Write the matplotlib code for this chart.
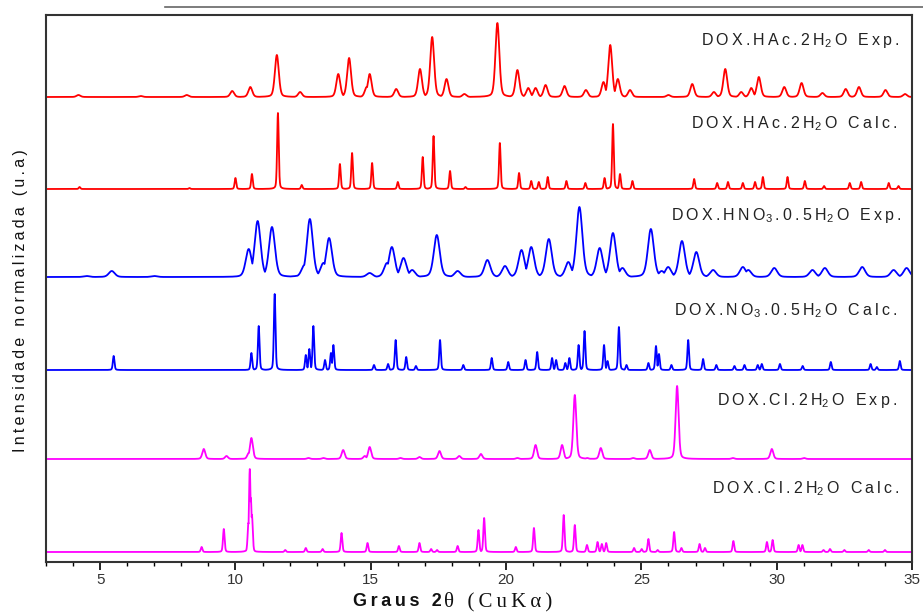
import numpy as np
import matplotlib
matplotlib.use("Agg")
import matplotlib.pyplot as plt
from matplotlib.lines import Line2D
from matplotlib.ticker import MultipleLocator

plt.rcParams["font.family"] = ["Liberation Sans", "DejaVu Sans"]

# ---------------------------------------------------------------------------
# Peak lists: 2theta (deg) and height (arb. units)
# ---------------------------------------------------------------------------
hac_exp_pos = [4.2, 6.5, 8.2, 9.88, 10.55, 11.53, 12.39, 13.8, 14.2, 14.85, 14.96,
               15.94, 16.82, 17.27, 17.8, 18.46, 19.68, 20.42, 20.82, 21.09, 21.46,
               22.16, 22.95, 23.6, 23.85, 24.13, 24.58, 26.0, 26.88, 27.68, 28.1,
               28.69, 29.06, 29.34, 30.28, 30.92, 31.69, 32.55, 33.04, 34.02, 34.74]
hac_exp_int = [2, 1, 2, 6, 10, 42, 5, 23, 39, 10, 23,
               8, 28, 60, 18, 3, 74, 27, 9, 9, 12,
               11, 7, 15, 52, 18, 7, 2, 13, 5, 28,
               5, 9, 20, 10, 14, 4, 8, 10, 7, 3]

hac_calc_pos = [4.24, 8.3, 10.0, 10.61, 11.57, 12.45, 13.86, 14.31, 15.05, 16.0,
                16.92, 17.32, 17.93, 18.5, 19.77, 20.48, 20.93, 21.21, 21.54, 22.23,
                22.93, 23.64, 23.95, 24.21, 24.67, 26.95, 27.8, 28.2, 28.75, 29.2,
                29.49, 30.4, 31.04, 31.75, 32.7, 33.12, 34.14, 34.5]
hac_calc_int = [2, 1, 11, 15, 76, 4, 25, 36, 26, 7,
                32, 53, 18, 2, 46, 16, 8, 7, 12, 8,
                6, 11, 65, 15, 8, 10, 6, 7, 6, 7,
                12, 12, 8, 3, 6, 7, 6, 3]

hno3_exp_pos = [4.5, 5.43, 7.0, 10.49, 10.82, 11.35, 12.55, 12.75, 13.25, 13.46, 14.96,
                15.6, 15.78, 16.21, 16.53, 17.44, 18.21, 19.31, 19.96, 20.57, 20.93,
                21.58, 22.3, 22.71, 23.46, 23.95, 24.3, 25.35, 25.75, 25.99, 26.5,
                27.03, 27.65, 28.75, 28.95, 29.91, 31.32, 31.78, 33.16, 34.32, 34.8]
hno3_exp_int = [1, 6, 1, 28, 56, 50, 12, 58, 14, 39, 4,
                14, 30, 19, 7, 42, 6, 17, 11, 27, 30,
                38, 15, 70, 29, 44, 9, 48, 6, 10, 36,
                25, 7, 10, 7, 9, 7, 9, 10, 7, 9]

no3_calc_pos = [5.5, 10.59, 10.86, 11.45, 12.6, 12.73, 12.88, 13.31, 13.53, 13.62,
                15.12, 15.64, 15.92, 16.31, 16.67, 17.56, 18.42, 19.47, 20.08, 20.72,
                21.15, 21.7, 21.85, 22.19, 22.34, 22.68, 22.9, 23.62, 23.75, 24.17,
                24.45, 25.26, 25.54, 25.65, 26.11, 26.73, 27.28, 27.77, 28.44, 28.81,
                29.3, 29.45, 30.12, 30.96, 32.0, 33.47, 33.7, 34.55]
no3_calc_int = [14, 17, 44, 76, 15, 21, 44, 10, 17, 25,
                5, 6, 30, 13, 4, 30, 5, 12, 8, 10,
                18, 12, 10, 7, 12, 25, 39, 25, 9, 43,
                5, 7, 24, 16, 5, 30, 11, 5, 4, 5,
                5, 6, 6, 4, 8, 6, 3, 9]

cl_exp_pos = [8.83, 9.67, 10.49, 10.59, 12.7, 13.25, 13.98, 14.78, 14.96, 16.1,
              16.8, 17.54, 18.27, 19.07, 20.42, 21.09, 22.07, 22.54, 23.0, 23.5,
              24.7, 25.31, 26.32, 28.38, 29.82, 31.01]
cl_exp_int = [10, 3, 6, 21, 1, 1, 9, 3, 12, 1,
              2, 8, 3, 5, 1, 14, 14, 64, 1, 11,
              1, 9, 73, 1, 10, 1]

cl_calc_pos = [8.75, 9.57, 10.48, 10.53, 10.57, 10.61, 11.84, 12.6, 13.22, 13.92,
               14.88, 16.04, 16.8, 17.23, 17.45, 18.21, 18.98, 19.19, 20.36, 21.03,
               22.13, 22.54, 22.99, 23.38, 23.54, 23.7, 24.73, 25.01, 25.26, 25.6,
               26.21, 26.48, 27.15, 27.35, 28.4, 29.64, 29.85, 30.81, 30.95, 31.73,
               31.97, 32.5, 33.4, 34.0]
cl_calc_int = [5, 23, 29, 83, 54, 37, 2, 4, 3, 19,
               9, 6, 9, 3, 2, 6, 22, 34, 5, 24,
               37, 27, 7, 10, 8, 9, 4, 3, 13, 2,
               20, 4, 8, 4, 11, 10, 12, 7, 7, 2,
               3, 2, 2, 2]

# vertical offsets of each pattern (same units as heights)
offsets = [455, 363, 275, 182, 93, 0]

# ---------------------------------------------------------------------------
THIN = "\u2009"


def spaced(s):
    return THIN.join(s)


def sub(d):
    return r"$\mathregular{_" + d + "}$" + THIN


label_texts = [
    spaced("DOX.HAc.2H") + sub("2") + spaced("O Exp."),
    spaced("DOX.HAc.2H") + sub("2") + spaced("O Calc."),
    spaced("DOX.HNO") + sub("3") + spaced(".0.5H") + sub("2") + spaced("O Exp."),
    spaced("DOX.NO") + sub("3") + spaced(".0.5H") + sub("2") + spaced("O Calc."),
    spaced("DOX.Cl.2H") + sub("2") + spaced("O Exp."),
    spaced("DOX.Cl.2H") + sub("2") + spaced("O Calc."),
]

grid = np.linspace(3, 35, 6401)


def pattern(pos, hgt, fwhm, eta=0.3):
    p = np.asarray(pos, float)[:, None]
    h = np.asarray(hgt, float)[:, None]
    d = (grid[None, :] - p) / (fwhm / 2.0)
    prof = (1 - eta) * np.exp(-np.log(2) * d ** 2) + eta / (1 + d ** 2)
    return (h * prof).max(axis=0)


traces = [
    (hac_exp_pos, hac_exp_int, 0.17, "#ff0000"),
    (hac_calc_pos, hac_calc_int, 0.07, "#ff0000"),
    (hno3_exp_pos, hno3_exp_int, 0.26, "#0000ff"),
    (no3_calc_pos, no3_calc_int, 0.07, "#0000ff"),
    (cl_exp_pos, cl_exp_int, 0.13, "#ff00ff"),
    (cl_calc_pos, cl_calc_int, 0.07, "#ff00ff"),
]

fig = plt.figure(figsize=(9.23, 6.12), dpi=100)
ax = fig.add_axes([46 / 923, 50 / 612, 866 / 923, 547 / 612])

for (pos, hgt, w, col), off in zip(traces, offsets):
    ax.plot(grid, off + pattern(pos, hgt, w), color=col, lw=1.3)

# labels: right edge x (deg) and baseline y
label_x = [34.55, 34.45, 34.62, 34.47, 34.47, 34.55]
label_y = [507, 424, 332, 237, 147, 59]
for t, lx, ly in zip(label_texts, label_x, label_y):
    ax.text(lx, ly, t, ha="right", va="baseline", fontsize=11.5, color="#222222")

ax.set_xlim(3, 35)
ax.set_ylim(-10, 537)
ax.set_yticks([])
ax.xaxis.set_major_locator(MultipleLocator(5))
ax.xaxis.set_minor_locator(MultipleLocator(1))
ax.tick_params(axis="x", which="major", direction="out", length=6, width=1.2,
               labelsize=11, labelcolor="#333333", pad=2)
ax.tick_params(axis="x", which="minor", direction="out", length=3, width=1.0)
for sp in ax.spines.values():
    sp.set_linewidth(1.5)
    sp.set_color("#333333")

# axis titles
fig.text(21 / 923, 1 - 301 / 612, spaced("Intensidade normalizada (u.a)"),
         rotation=90, ha="center", va="center", fontsize=11.5, color="#111111")
fig.text(442 / 923, 1 - 606 / 612, spaced("Graus 2"), ha="right", va="baseline",
         fontsize=13, fontweight="bold", color="#111111")
fig.text(444 / 923, 1 - 606 / 612, spaced("\u03b8 (CuK\u03b1)"), ha="left",
         va="baseline", fontsize=15, family=["Liberation Serif", "DejaVu Serif"],
         color="#111111")

# stray grey rule above the frame
fig.add_artist(Line2D([165 / 923, 1.0], [1 - 7 / 612] * 2, color="#666666", lw=1.2))

fig.savefig("out.png", dpi=100)
